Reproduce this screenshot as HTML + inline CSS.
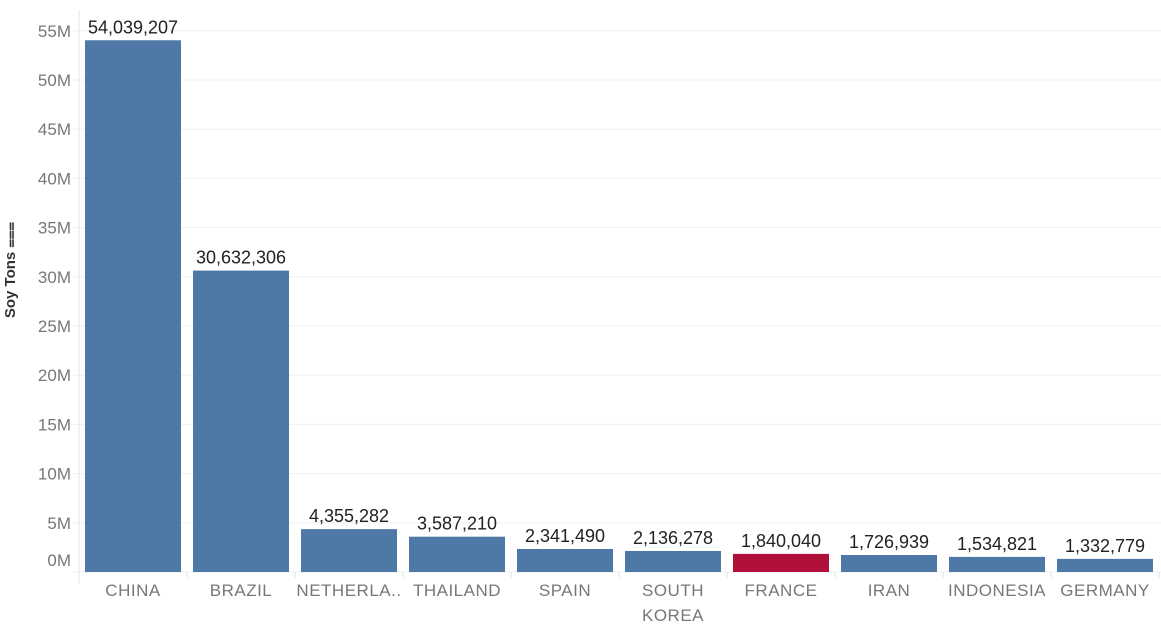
<!DOCTYPE html>
<html><head><meta charset="utf-8"><style>
body{margin:0;background:#fff;font-family:"Liberation Sans",sans-serif}
</style></head><body>
<svg id="chart" width="1161" height="631" xmlns="http://www.w3.org/2000/svg"></svg>
<script>
const categories=["CHINA","BRAZIL","NETHERLA..","THAILAND","SPAIN","SOUTH\nKOREA","FRANCE","IRAN","INDONESIA","GERMANY"];
const values=[54039207,30632306,4355282,3587210,2341490,2136278,1840040,1726939,1534821,1332779];
const highlighted=["FRANCE"];
const tickValues=[0,5,10,15,20,25,30,35,40,45,50,55];
const tickLabels=["0M","5M","10M","15M","20M","25M","30M","35M","40M","45M","50M","55M"];
const svg=document.getElementById('chart');
const NS='http://www.w3.org/2000/svg';
const x0=79,step=108,bw=96,base=572,pxPerM=9.84;
const y=v=>base-v/1e6*pxPerM;
const xb=i=>x0+6+i*step;
function mk(t,a,txt){const e=document.createElementNS(NS,t);for(const k in a)e.setAttribute(k,a[k]);if(txt!=null)e.textContent=txt;svg.appendChild(e);return e;}
tickValues.forEach((t,i)=>{
 const yy=y(t*1e6);
 const g=mk('line',{x1:x0-6,x2:1161,y1:yy,y2:yy,stroke:'#efefef','stroke-width':1});
 
 
 const l=mk('text',{x:71,y:(t===0?yy-12:yy)+6,'text-anchor':'end','font-size':17,fill:'#777'},tickLabels[i]);
 
 
});
const ax=mk('line',{x1:x0,x2:x0,y1:10,y2:base+12,stroke:'#e6e6e6'});


const yt=mk('text',{transform:'translate(15,270) rotate(-90)','text-anchor':'middle','font-size':15,'font-weight':'bold',fill:'#333'},'Soy Tons ⩶');


categories.forEach((c,i)=>{
 const top=y(values[i]);
 const r=mk('rect',{x:xb(i),y:top,width:bw,height:base-top,fill:highlighted.includes(c)?'#b0103a':'#4e79a7'});
 
 
 const v=mk('text',{x:xb(i)+bw/2,y:top-7,'text-anchor':'middle','font-size':18,fill:'#222'},values[i].toLocaleString('en-US'));
 
 
 const tk=mk('line',{x1:x0+(i+1)*step,x2:x0+(i+1)*step,y1:base,y2:base+6,stroke:'#e6e6e6'});
 
 
 c.split('\n').forEach((ln,j)=>{
  const t=mk('text',{x:xb(i)+bw/2,y:596+j*25,'text-anchor':'middle','font-size':17,fill:'#777','letter-spacing':'0.5'},ln);
  
  
 });
});
</script>
</body></html>
